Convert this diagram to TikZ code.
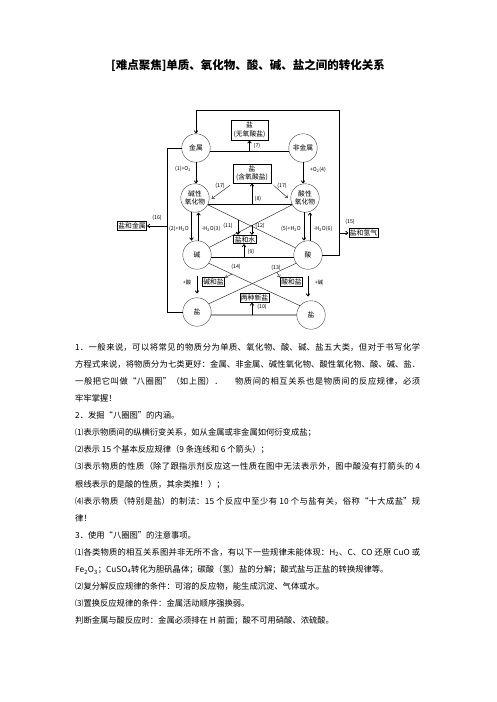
\documentclass[tikz,border=0pt]{standalone}
\usepackage{fontspec}
\setmainfont{Noto Sans CJK SC}
\usetikzlibrary{arrows.meta,calc}
\XeTeXlinebreaklocale "zh"
\XeTeXlinebreakskip=0pt plus 1pt minus 0.5pt
\begin{document}
\begin{tikzpicture}[x=1pt,y=-1pt,
  circ/.style={circle,draw=black!75,line width=0.4pt,minimum size=28.5pt,inner sep=0pt,
    font=\fontsize{6.8}{7.6}\selectfont,align=center},
  bx/.style={draw,line width=0.8pt,inner sep=1pt,font=\fontsize{6.8}{8.6}\selectfont,align=center},
  lab/.style={font=\fontsize{5.3}{6}\selectfont,inner sep=0pt},
  ln/.style={line width=0.8pt},
  thn/.style={line width=0.45pt,black!85},
  arr/.style={-{Straight Barb[length=2.2pt,width=3.6pt]}}
]
\useasboundingbox (0,0) rectangle (496,702);
\fill[white] (0,0) rectangle (496,702);

% title
\node[font=\fontsize{11.5}{13}\selectfont\bfseries] (title) at (248,65) {[难点聚焦]单质、氧化物、酸、碱、盐之间的转化关系};

% circles
\node[circ] (jinshu) at (196,148) {金属};
\node[circ] (feijinshu) at (303,148) {非金属};
\node[circ] (jyh) at (195,198) {碱性\\氧化物};
\node[circ] (syh) at (305,198) {酸性\\氧化物};
\node[circ] (jian) at (197,255) {碱};
\node[circ] (suan) at (308,255) {酸};
\node[circ] (yanL) at (197,312) {盐};
\node[circ] (yanR) at (311,315) {盐};

% boxes
\node[bx,minimum width=37pt,minimum height=20pt] (wuyang) at (249.5,130) {盐\\(无氧酸盐)};
\node[bx,minimum width=38pt,minimum height=19pt] (hanyang) at (252,173.5) {盐\\(含氧酸盐)};
\node[bx] (yanshui) at (245,239.5) {盐和水};
\node[bx] (jianheyan) at (213.5,282) {碱和盐};
\node[bx] (suanheyan) at (291.5,282) {酸和盐};
\node[bx] (liangzhong) at (254.5,298) {两种新盐};
\node[bx] (yanjinshu) at (132,226) {盐和金属};
\node[bx] (yanqingqi) at (363.5,233) {盐和氢气};

% helper coordinates
\coordinate (rt) at (339,110);
\coordinate (lb) at (167,312);
\coordinate (p15) at (339,233);
\coordinate (p16) at (167,226);
\coordinate (p7) at (249.5,151);
\coordinate (p8) at (252,204.3);
\coordinate (p9) at (244,257.5);
\coordinate (p10) at (252,315);

% outer loops
\draw[ln,arr] (suan.east) -| (rt) -| (jinshu.north);
\draw[ln] (jinshu.west) -| (lb) -- (yanL.west);
\draw[ln,arr] (p15) -- (yanqingqi.west);
\draw[ln,arr] (p16) -- (yanjinshu.east);

% horizontal lines
\draw[ln] (jinshu.-12) -- (feijinshu.192);
\draw[ln,arr] (p7) -- (wuyang.south);
\draw[ln] (jyh.-25) -- (syh.205);
\draw[ln,arr] (p8) -- (hanyang.south);
\draw[ln] (jian.-10) -- (suan.190);
\draw[ln,arr] (p9) -- (p9 |- yanshui.south);
\draw[ln] (yanL.-12) -- (yanR.180);
\draw[ln,arr] (p10) -- (p10 |- liangzhong.south);

% (17)
\draw[thn,arr,shorten <=3pt,shorten >=3pt] (hanyang.south west) -- (jyh.-10);
\draw[thn,arr,shorten <=3pt,shorten >=4pt] (hanyang.south east) -- (syh.190);

% vertical arrows
\draw[ln,arr] (jinshu.south) -- (jinshu.south |- jyh.north);
\draw[ln,arr] (feijinshu.south) -- (feijinshu.south |- syh.north);
\draw[ln,arr] ([xshift=-3.5pt]jyh.south) -- ([xshift=-3.5pt]jyh.south |- jian.north);
\draw[ln,arr] ([xshift=3.5pt]jyh.south |- jian.north) -- ([xshift=3.5pt]jyh.south);
\draw[ln,arr] ([xshift=-1pt]syh.south) -- ([xshift=-1pt]syh.south |- suan.north);
\draw[ln,arr] ([xshift=5pt]syh.south |- suan.north) -- ([xshift=5pt]syh.south);
\draw[ln,arr,shorten <=7pt,shorten >=4pt] (jian.south) -- (yanL.north);
\draw[ln,arr,shorten <=7pt,shorten >=4pt] (suan.south) -- (suan.south |- yanR.north);

% cross lines
\draw[thn] (jyh.-28) -- (suan.150);
\draw[thn] (syh.208) -- (jian.32);
\draw[thn] (jian.-35) -- (yanR.140);
\draw[thn] (suan.215) -- (yanL.35);

\coordinate (p11) at ($(jyh.-28)!0.345!(suan.150)$);
\coordinate (p12) at ($(syh.208)!0.485!(jian.32)$);
\coordinate (p14) at ($(jian.-35)!0.255!(yanR.140)$);
\coordinate (p13) at ($(suan.215)!0.22!(yanL.35)$);
\draw[ln,arr] (p11) -- (p11 |- yanshui.north);
\draw[ln,arr] (p12) -- (p12 |- yanshui.north);
\draw[thn,arr] (p14) -- (jianheyan.north east);
\draw[thn,arr] (p13) -- (suanheyan.north west);

% labels
\node[lab] (l1) at (183,169) {(1)+O\textsubscript{2}};
\node[lab] (l4) at (318,170) {+O\textsubscript{2}(4)};
\node[lab] (l7) at (257,146) {(7)};
\node[lab] (l8) at (258,199) {(8)};
\node[lab] (l17a) at (220,186) {(17)};
\node[lab] (l17b) at (282,186) {(17)};
\node[lab] (l2) at (179,229) {(2)+H\textsubscript{2}O};
\node[lab] (l3) at (211,229) {-H\textsubscript{2}O(3)};
\node[lab] (l5) at (291,229) {(5)+H\textsubscript{2}O};
\node[lab] (l6) at (323,229) {-H\textsubscript{2}O(6)};
\node[lab] (l11) at (228,226) {(11)};
\node[lab] (l12) at (260,226) {(12)};
\node[lab] (l9) at (251,252) {(9)};
\node[lab] (l14) at (236,267) {(14)};
\node[lab] (l13) at (276,268) {(13)};
\node[lab] (lsuan) at (187,282) {+酸};
\node[lab] (ljian) at (319,282) {+碱};
\node[lab] (l10) at (262,307) {(10)};
\node[lab] (l16) at (157,218) {(16)};
\node[lab] (l15) at (350,222) {(15)};

% body text
\node[anchor=north west,inner sep=0pt,text width=345pt,align=justify,
  font=\fontsize{8.3}{17.1}\selectfont] (body) at (75,343) {%
1．一般来说，可以将常见的物质分为单质、氧化物、酸、碱、盐五大类，但对于书写化学\linebreak
方程式来说，将物质分为七类更好：金属、非金属、碱性氧化物、酸性氧化物、酸、碱、盐．\linebreak
一般把它叫做“八圈图”（如上图）．\hspace{1.5em}物质间的相互关系也是物质间的反应规律，必须\linebreak
牢牢掌握！\par
2．发掘“八圈图”的内涵。\par
⑴表示物质间的纵横衍变关系，如从金属或非金属如何衍变成盐；\par
⑵表示 15 个基本反应规律（9 条连线和 6 个箭头）；\par
⑶表示物质的性质（除了跟指示剂反应这一性质在图中无法表示外，图中酸没有打箭头的 4\linebreak
根线表示的是酸的性质，其余类推！）；\par
⑷表示物质（特别是盐）的制法：15 个反应中至少有 10 个与盐有关，俗称“十大成盐”规\linebreak
律！\par
3．使用“八圈图”的注意事项。\par
⑴各类物质的相互关系图并非无所不含，有以下一些规律未能体现：H\textsubscript{2}、C、CO 还原 CuO 或\linebreak
Fe\textsubscript{2}O\textsubscript{3}；CuSO\textsubscript{4}转化为胆矾晶体；碳酸（氢）盐的分解；酸式盐与正盐的转换规律等。\par
⑵复分解反应规律的条件：可溶的反应物，能生成沉淀、气体或水。\par
⑶置换反应规律的条件：金属活动顺序强换弱。\par
判断金属与酸反应时：金属必须排在 H 前面；酸不可用硝酸、浓硫酸。};
\end{tikzpicture}
\end{document}
